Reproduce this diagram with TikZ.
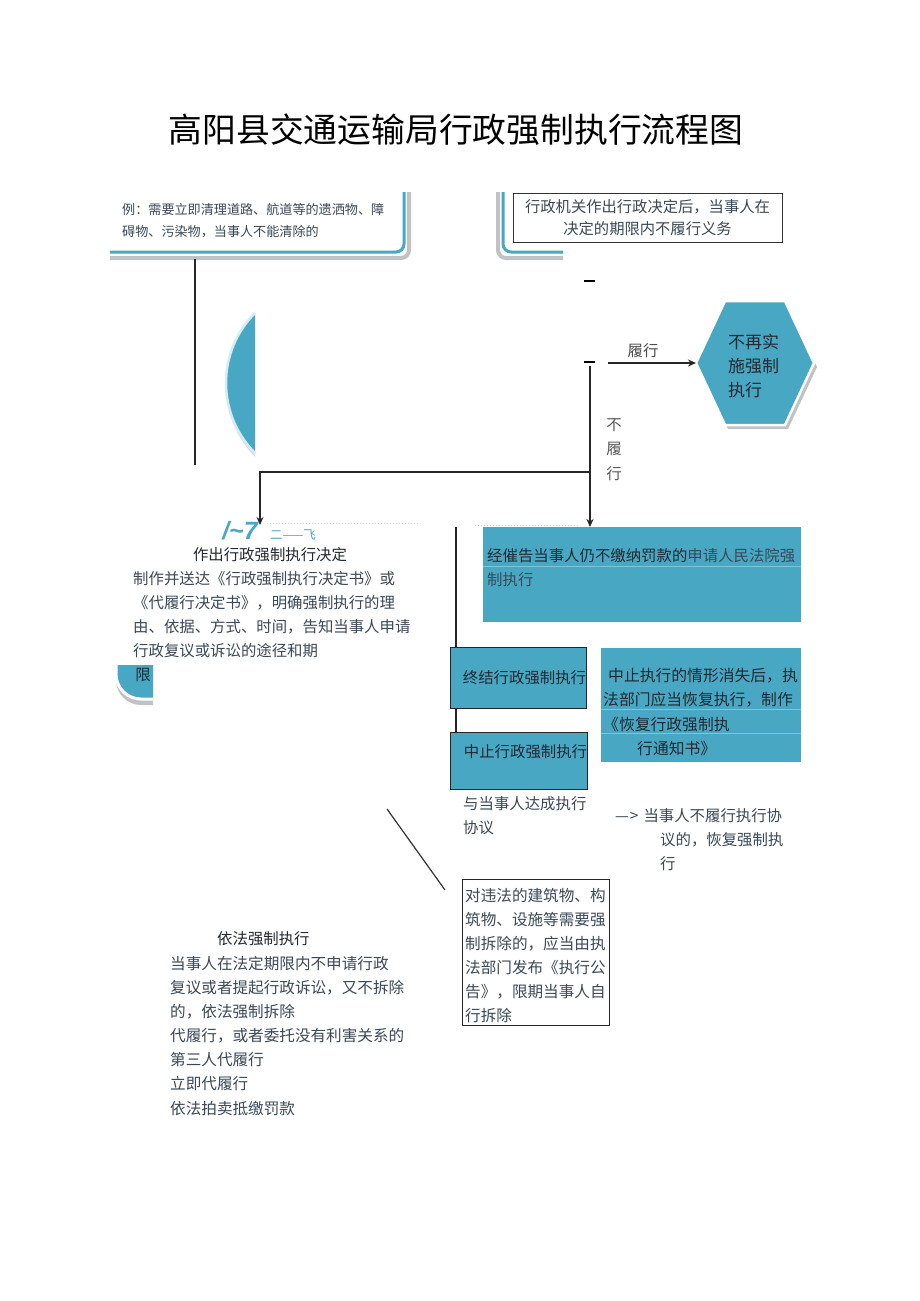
\documentclass[tikz,border=0pt]{standalone}
\usepackage{fontspec}
\setmainfont{Noto Sans CJK SC}
\newfontfamily\libsans{Liberation Sans}
\usetikzlibrary{arrows.meta}
\definecolor{tealc}{RGB}{72,168,196}
\definecolor{sepc}{RGB}{130,196,214}
\definecolor{lightb}{RGB}{214,236,244}
\definecolor{shadowc}{RGB}{192,194,198}
\definecolor{txtc}{RGB}{58,72,88}
\definecolor{darkc}{RGB}{34,40,48}
\begin{document}
\begin{tikzpicture}[x=1pt,y=-1pt,
  txt/.style={inner sep=0pt, text=txtc, align=left, anchor=north west},
  f15/.style={font=\fontsize{15.4}{24.2}\selectfont},
  link/.style={draw=black!85, line width=1.3pt},
  arr/.style={-{Stealth[length=8pt,width=7pt]}},
  tealbox/.style={fill=tealc, inner sep=0pt, anchor=north west},
  sepline/.style={draw=sepc, line width=0.7pt},
]
\useasboundingbox[fill=white] (0,0) rectangle (920,1301);

% title
\node[font=\fontsize{33.8}{34}\selectfont, text=black] (title) at (456,130) {高阳县交通运输局行政强制执行流程图};

% top-left partial rounded box
\begin{scope}
\clip (110,192) rectangle (420,268);
\draw[shadowc, line width=4pt, rounded corners=8pt] (40,150) rectangle (409,258);
\draw[tealc, line width=3pt, fill=white, rounded corners=8pt] (40,150) rectangle (404,252);
\end{scope}
\node[txt, font=\fontsize{13.1}{22}\selectfont] (ex) at (122,203.5) {例：需要立即清理道路、航道等的遗洒物、障\\碍物、污染物，当事人不能清除的};

% top-right partial rounded box and decision box
\begin{scope}
\clip (495,192) rectangle (563,266);
\draw[shadowc, line width=4pt, rounded corners=8pt] (498,150) rectangle (700,258);
\draw[tealc, line width=3pt, fill=white, rounded corners=8pt] (503,150) rectangle (700,252);
\end{scope}
\node[draw=black!80, line width=0.8pt, fill=white, minimum width=269pt, minimum height=49pt, inner sep=0pt, align=center, text=txtc, font=\fontsize{15.3}{22}\selectfont] (dec) at (647.5,218) {行政机关作出行政决定后，当事人在\\决定的期限内不履行义务};

% small dashes
\draw[line width=1.2pt] (584,281) -- (595,281);
\draw[line width=1.2pt] (584,362) -- (595,362);

% partial circle
\begin{scope}
\clip (210,300) rectangle (255,470);
\fill[shadowc!60] (327,386) circle (101);
\draw[fill=tealc, draw=lightb, line width=2.5pt] (325,383) circle (99);
\end{scope}

% left vertical line
\coordinate (lv1) at (195,259);
\coordinate (lv2) at (195,465);
\draw[link] (lv1) -- (lv2);

% hexagon
\coordinate (hexw) at (696,363);
\fill[shadowc, shift={(3,4)}] (696,363) -- (725,301) -- (785,301) -- (814,363) -- (785,425) -- (725,425) -- cycle;
\draw[white, line width=2.5pt, fill=tealc] (hexw) -- (725,301) -- (785,301) -- (814,363) -- (785,425) -- (725,425) -- cycle;
\node[txt, text=darkc, font=\fontsize{17}{24}\selectfont] (hext) at (728,334) {不再实\\施强制\\执行};

% fulfil arrow
\coordinate (lx) at (608,363);
\draw[link, arr] (lx) -- (hexw);
\node[inner sep=0pt, text=black!70, font=\fontsize{15.4}{16}\selectfont] (lvx) at (643,351) {履行};

% main split
\node[tealbox, minimum width=318pt, minimum height=95pt] (tb1) at (483,527) {};
\draw[sepline] (483,566) -- (801,566);
\node[txt, f15] (tb1t) at (487,548) {{\color{darkc}经催告当事人仍不缴纳罚款的}申请人民法院强\\制执行};

\coordinate (split) at (590,366);
\coordinate (junc) at (590,472);
\coordinate (dectop) at (260,525);
\draw[link, arr] (split) -- (split |- tb1.north);
\draw[link, arr] (junc) -- (260,472) -- (dectop);
\node[inner sep=0pt, align=center, text=black!65, font=\fontsize{15.4}{24.5}\selectfont, anchor=north] (nf) at (614,418) {不\\履\\行};

% decision text (left)
\node[inner sep=0pt, text=tealc, font=\libsans\bfseries\itshape\fontsize{25}{25}\selectfont] (sym1) at (240,531) {/\textasciitilde7};
\node[inner sep=0pt, text=tealc, font=\fontsize{12.5}{13}\selectfont] (sym2) at (293,535) {二——飞};
\draw[gray!35, dotted, line width=1pt] (267,523) -- (420,523);
\draw[gray!35, dotted, line width=1pt] (475,525) -- (580,525);
\node[inner sep=0pt, text=darkc, font=\fontsize{15.4}{16}\selectfont] (dech) at (270,555) {作出行政强制执行决定};
\node[txt, f15] (decp) at (133,571) {制作并送达《行政强制执行决定书》或\\《代履行决定书》，明确强制执行的理\\由、依据、方式、时间，告知当事人申请\\行政复议或诉讼的途径和期};

% corner with 限
\begin{scope}
\clip (114,665) rectangle (153,706);
\fill[shadowc, rounded corners=25pt] (116,600) rectangle (400,705);
\draw[white, line width=3pt, fill=tealc, rounded corners=25pt] (116,598) rectangle (400,699);
\end{scope}
\node[inner sep=0pt, text=darkc, font=\fontsize{15.4}{16}\selectfont] (xian) at (143,675) {限};

% right column boxes
\coordinate (vtop) at (456,527);
\node[tealbox, draw=black!85, line width=0.8pt, minimum width=136pt, minimum height=61pt, text=darkc, font=\fontsize{15.4}{16}\selectfont, anchor=center] (endb) at (518,677.5) {\hspace*{13pt}终结行政强制执行};
\node[tealbox, draw=black!85, line width=0.8pt, minimum width=137pt, minimum height=57pt, text depth=18pt, text=darkc, font=\fontsize{15.4}{16}\selectfont, anchor=center] (susp) at (518.5,760.5) {\hspace*{14pt}中止行政强制执行};
\draw[link] (vtop) -- (vtop |- endb.north);
\draw[link] (endb.south -| vtop) -- (susp.north -| vtop);

\node[tealbox, minimum width=200pt, minimum height=114pt] (rb) at (601,648) {};
\draw[sepline] (601,709) -- (801,709);
\draw[sepline] (601,733) -- (801,733);
\node[txt, text=darkc, font=\fontsize{15.8}{24.3}\selectfont] (rbt) at (603,668) {\hspace*{5pt}中止执行的情形消失后，执\\法部门应当恢复执行，制作\\《恢复行政强制执\\\hspace*{34pt}行通知书》};

\node[txt, f15] (agr) at (463,796) {与当事人达成执行\\协议};
\node[txt, f15] (noagr) at (615,808) {—\hspace{1pt}>\hspace{5pt}当事人不履行执行协\\\hspace*{45pt}议的，恢复强制执\\\hspace*{45pt}行};

% diagonal line
\coordinate (dg1) at (387,809);
\coordinate (dg2) at (445,890);
\draw[line width=1.2pt, black!80] (dg1) -- (dg2);

% demolition box
\node[draw=black!85, line width=0.8pt, fill=white, minimum width=147pt, minimum height=146pt, inner sep=0pt, anchor=north west] (dm) at (462,879) {};
\node[txt, font=\fontsize{15.6}{24.1}\selectfont] (dmt) at (465,888) {对违法的建筑物、构\\筑物、设施等需要强\\制拆除的，应当由执\\法部门发布《执行公\\告》，限期当事人自\\行拆除};

% bottom-left text
\node[inner sep=0pt, anchor=north west, text=darkc, font=\fontsize{15.4}{16}\selectfont] (lawh) at (217,931) {依法强制执行};
\node[txt, font=\fontsize{15.6}{24.1}\selectfont] (lawt) at (170,956) {当事人在法定期限内不申请行政\\复议或者提起行政诉讼，又不拆除\\的，依法强制拆除\\代履行，或者委托没有利害关系的\\第三人代履行\\立即代履行\\依法拍卖抵缴罚款};
\end{tikzpicture}
\end{document}
